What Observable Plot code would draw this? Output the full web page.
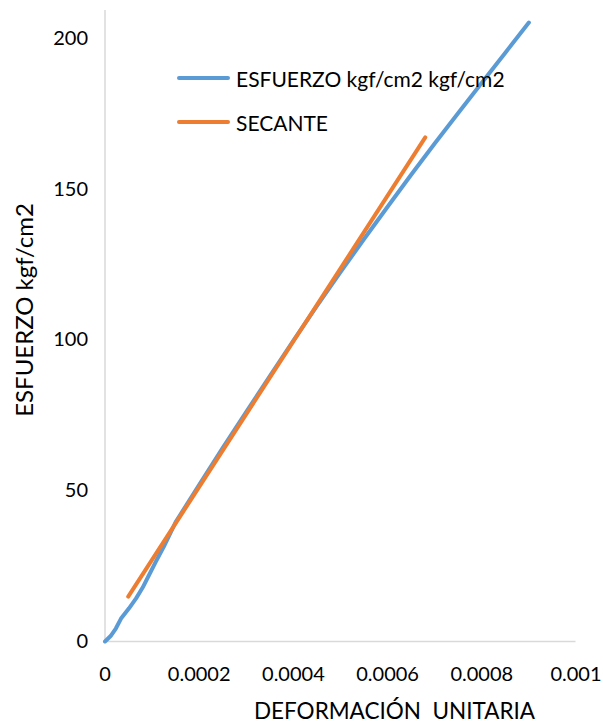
<!DOCTYPE html>
<html>
<head>
<meta charset="utf-8">
<script src="https://cdn.jsdelivr.net/npm/d3@7"></script>
<script src="https://cdn.jsdelivr.net/npm/@observablehq/plot@0.6"></script>
<style>
  html, body { margin: 0; padding: 0; background: #fff; }
  #wrap { position: relative; width: 603px; height: 723px; font-family: Lato, "DejaVu Sans", sans-serif; }
  #legend { position: absolute; left: 177px; top: 65px; font-size: 21px; color: #000; }
  #legend .row { display: flex; align-items: center; height: 26px; margin-bottom: 18px; }
  #legend .sw { width: 53px; height: 4px; border-radius: 2px; margin-right: 6px; }
</style>
</head>
<body>
<div id="wrap"><div id="legend"></div></div>
<script>
// Blue series: ESFUERZO kgf/cm2 vs DEFORMACIÓN UNITARIA
const strain = [0, 0.000013, 0.000023, 0.000034, 0.000044, 0.000051, 0.000066, 0.00008, 0.000093, 0.000108, 0.000125, 0.00015, 0.0002, 0.00025, 0.0003, 0.00035, 0.0004, 0.00045, 0.0005, 0.00055, 0.0006, 0.00065, 0.0007, 0.00075, 0.0008, 0.00085, 0.0009];
const stress = [0, 2, 4.3, 7.6, 9.6, 11, 14.3, 17.9, 21.9, 26.5, 31.5, 39.6, 52.0, 64.2, 76.2, 88.0, 99.8, 111.3, 122.5, 133.5, 144.2, 154.8, 165.2, 175.3, 185.3, 195.3, 205.3];
// Orange series: SECANTE
const secStrain = [0.0000493, 0.00068];
const secStress = [14.9, 167.2];

const seriesNames = ["ESFUERZO kgf/cm2 kgf/cm2", "SECANTE"];
const seriesColors = ["#5B9BD5", "#ED7D31"];

const xTicks = [0, 0.0002, 0.0004, 0.0006, 0.0008, 0.001];
const xTickLabels = ["0", "0.0002", "0.0004", "0.0006", "0.0008", "0.001"];
const yTicks = [0, 50, 100, 150, 200];
const yTickLabels = ["0", "50", "100", "150", "200"];

const xTitle = "DEFORMACIÓN\u00a0\u00a0UNITARIA";
const yTitle = "ESFUERZO kgf/cm2";

const blue = strain.map((x, i) => ({x, y: stress[i]}));
const orange = secStrain.map((x, i) => ({x, y: secStress[i]}));

const chart = Plot.plot({
  width: 603,
  height: 723,
  marginLeft: 104.5,
  marginRight: 27.5,
  marginTop: 10,
  marginBottom: 82,
  style: {fontFamily: "Lato, 'DejaVu Sans', sans-serif", fontSize: "20px", color: "#000", background: "#fff", overflow: "visible"},
  x: {domain: [0, 0.001]},
  y: {domain: [0, 209.3]},
  marks: [
    Plot.ruleX([0], {stroke: "#D9D9D9", strokeWidth: 1.5}),
    Plot.ruleY([0], {stroke: "#D9D9D9", strokeWidth: 1.5}),
    Plot.axisX({ticks: xTicks, tickFormat: (d) => xTickLabels[xTicks.indexOf(d)], tickSize: 0, tickPadding: 25, fontSize: 20, fill: "#000", label: null}),
    Plot.axisY({ticks: yTicks, tickFormat: (d) => yTickLabels[yTicks.indexOf(d)], tickSize: 0, tickPadding: 17, fontSize: 20, fill: "#000", label: null}),
    Plot.line(blue, {x: "x", y: "y", stroke: seriesColors[0], strokeWidth: 4, strokeLinecap: "round", strokeLinejoin: "round"}),
    Plot.line(orange, {x: "x", y: "y", stroke: seriesColors[1], strokeWidth: 4, strokeLinecap: "round"}),
    Plot.text([xTitle], {frameAnchor: "bottom", textAnchor: "middle", dx: 54, dy: 77, fontSize: 22.5, fill: "#000"}),
    Plot.text([yTitle], {frameAnchor: "left", textAnchor: "middle", dx: -80, dy: -16, rotate: -90, fontSize: 24, fill: "#000"})
  ]
});

const wrap = document.getElementById("wrap");
wrap.insertBefore(chart, wrap.firstChild);

const legend = document.getElementById("legend");
seriesNames.forEach((name, i) => {
  const row = document.createElement("div");
  row.className = "row";
  const sw = document.createElement("div");
  sw.className = "sw";
  sw.style.background = seriesColors[i];
  const t = document.createElement("span");
  t.textContent = name;
  row.appendChild(sw);
  row.appendChild(t);
  legend.appendChild(row);
});
</script>
</body>
</html>
